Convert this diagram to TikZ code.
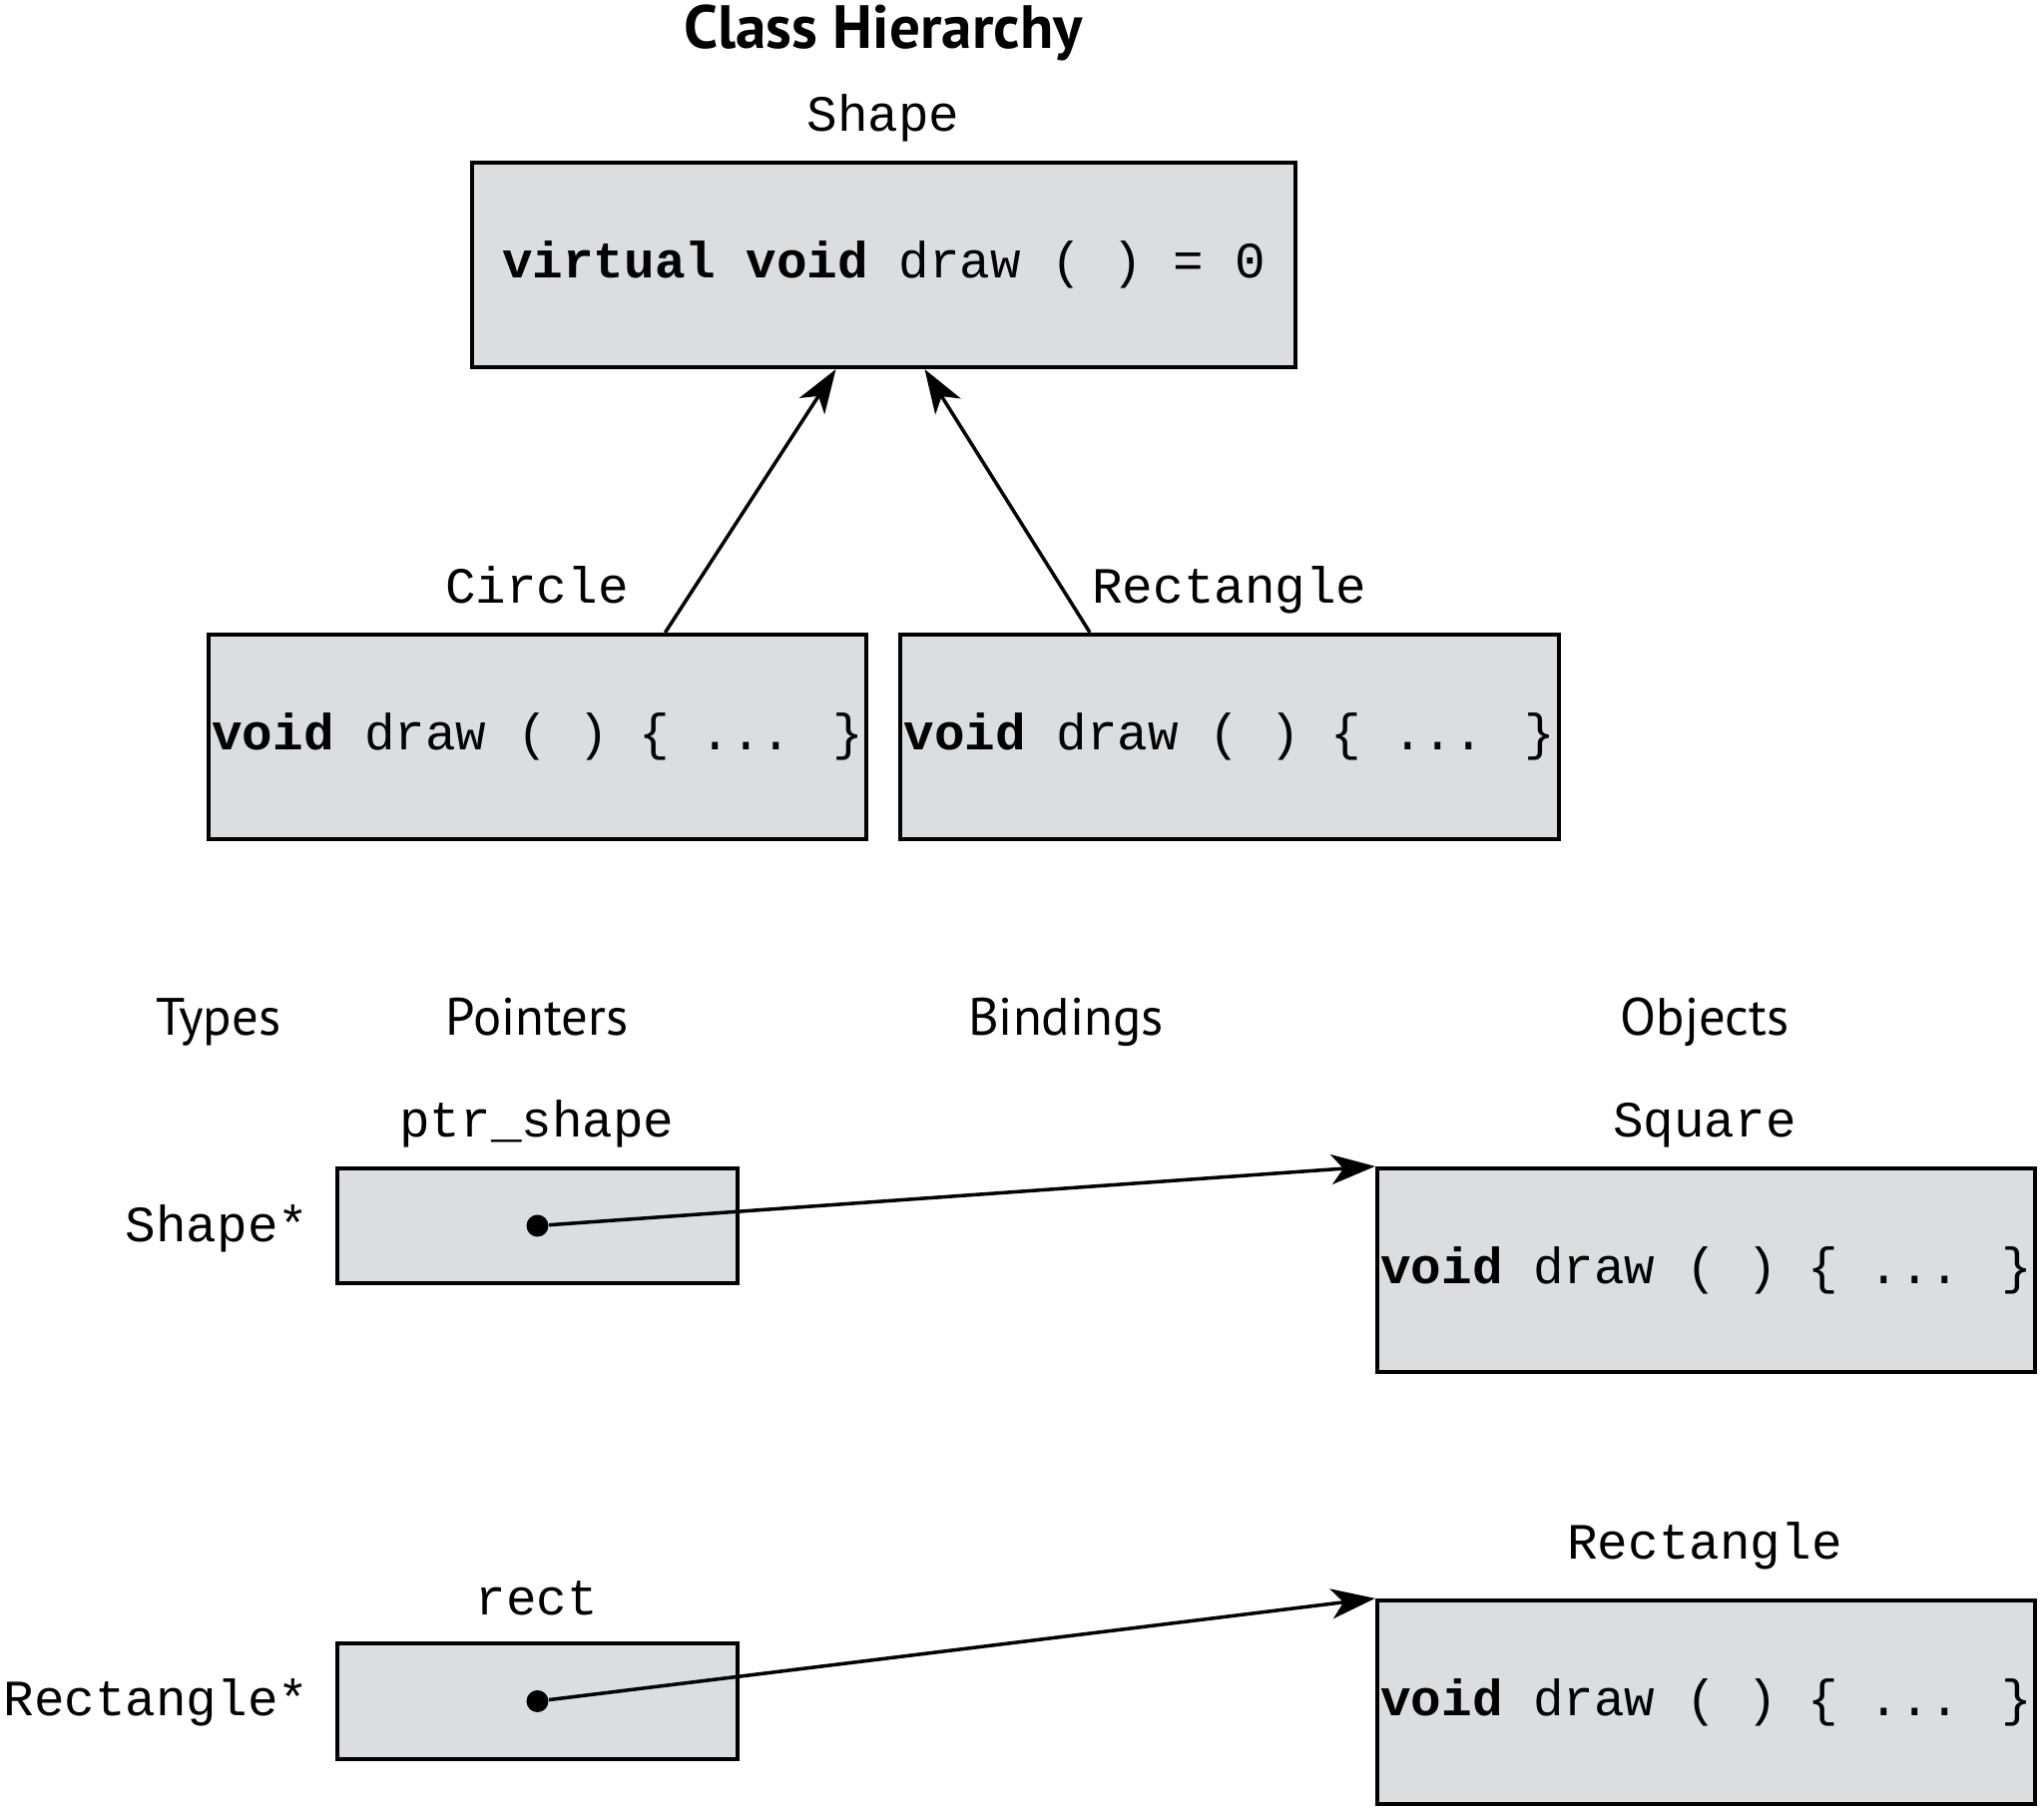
\documentclass[tikz,border=0pt]{standalone}
\usepackage{fontspec}
\newfontfamily\codefont{Liberation Mono}
\newfontfamily\headfont{PT Sans}
\usetikzlibrary{arrows.meta}
\definecolor{boxgray}{RGB}{220,221,223}
\tikzset{
  classbox/.style={draw, line width=1.2pt, fill=boxgray, inner sep=0pt},
  code/.style={font=\codefont\fontsize{14.5}{17}\selectfont},
  head/.style={font=\headfont\fontsize{15}{18}\selectfont, anchor=base, inner sep=0pt},
  link/.style={line width=1pt, -{Stealth[length=4.4mm,width=3mm,inset=1.2mm]}},
  pdot/.style={circle, fill, inner sep=0pt, minimum size=2.2mm},
}
\begin{document}
\begin{tikzpicture}
  \useasboundingbox (0,0) rectangle (20.48,-18.17);
  % class hierarchy
  \node[head,font=\headfont\bfseries\fontsize{17.4}{20}\selectfont] (title) at (8.85,-0.49) {Class Hierarchy};
  \node[classbox,code,minimum width=8.25cm,minimum height=2.05cm] (shape) at (8.855,-2.655)
        {\textbf{virtual void} draw ( ) = 0};
  \node[classbox,code,minimum width=6.59cm,minimum height=2.05cm] (circ)  at (5.385,-7.385)
        {\textbf{void} draw ( ) \{ ... \}};
  \node[classbox,code,minimum width=6.60cm,minimum height=2.05cm] (rectc) at (12.32,-7.385)
        {\textbf{void} draw ( ) \{ ... \}};
  \begin{scope}[every node/.style={code,anchor=base,inner sep=0pt}]
     \node (shapelbl) at (8.85,-1.32)  {Shape};
     \node (circlbl)  at (5.38,-6.05)  {Circle};
     \node (rectclbl) at (12.32,-6.05) {Rectangle};
  \end{scope}
  \draw[link] ([xshift=1.28cm]circ.north)   -- ([xshift=-0.48cm]shape.south);
  \draw[link] ([xshift=-1.40cm]rectc.north) -- ([xshift=0.41cm]shape.south);
  % bindings
  \node[head] (types)    at (2.19,-10.38)  {Types};
  \node[head] (pointers) at (5.38,-10.38)  {Pointers};
  \node[head] (bindings) at (10.68,-10.38) {Bindings};
  \node[head] (objects)  at (17.08,-10.38) {Objects};
  \node[classbox,minimum width=4.01cm,minimum height=1.15cm] (ptrbox)  at (5.385,-12.285) {};
  \node[classbox,minimum width=4.01cm,minimum height=1.16cm] (rectbox) at (5.385,-17.05) {};
  \node[classbox,code,minimum width=6.59cm,minimum height=2.04cm] (square) at (17.095,-12.73)
        {\textbf{void} draw ( ) \{ ... \}};
  \node[classbox,code,minimum width=6.59cm,minimum height=2.04cm] (rectobj) at (17.095,-17.06)
        {\textbf{void} draw ( ) \{ ... \}};
  \begin{scope}[every node/.style={code,anchor=base,inner sep=0pt}]
     \node (ptrlbl)     at (5.38,-11.40)  {ptr\_shape};
     \node (rectlbl)    at (5.38,-16.19)  {rect};
     \node (squarelbl)  at (17.08,-11.40) {Square};
     \node (rectobjlbl) at (17.08,-15.63) {Rectangle};
     \node[anchor=base east] (shapetype) at (3.10,-12.45) {Shape*};
     \node[anchor=base east] (recttype)  at (3.10,-17.20) {Rectangle*};
  \end{scope}
  \node[pdot] (ptrdot)  at (ptrbox.center)  {};
  \node[pdot] (rectdot) at (rectbox.center) {};
  \draw[link] (ptrdot)  -- (square.north west);
  \draw[link] (rectdot) -- (rectobj.north west);
\end{tikzpicture}
\end{document}
